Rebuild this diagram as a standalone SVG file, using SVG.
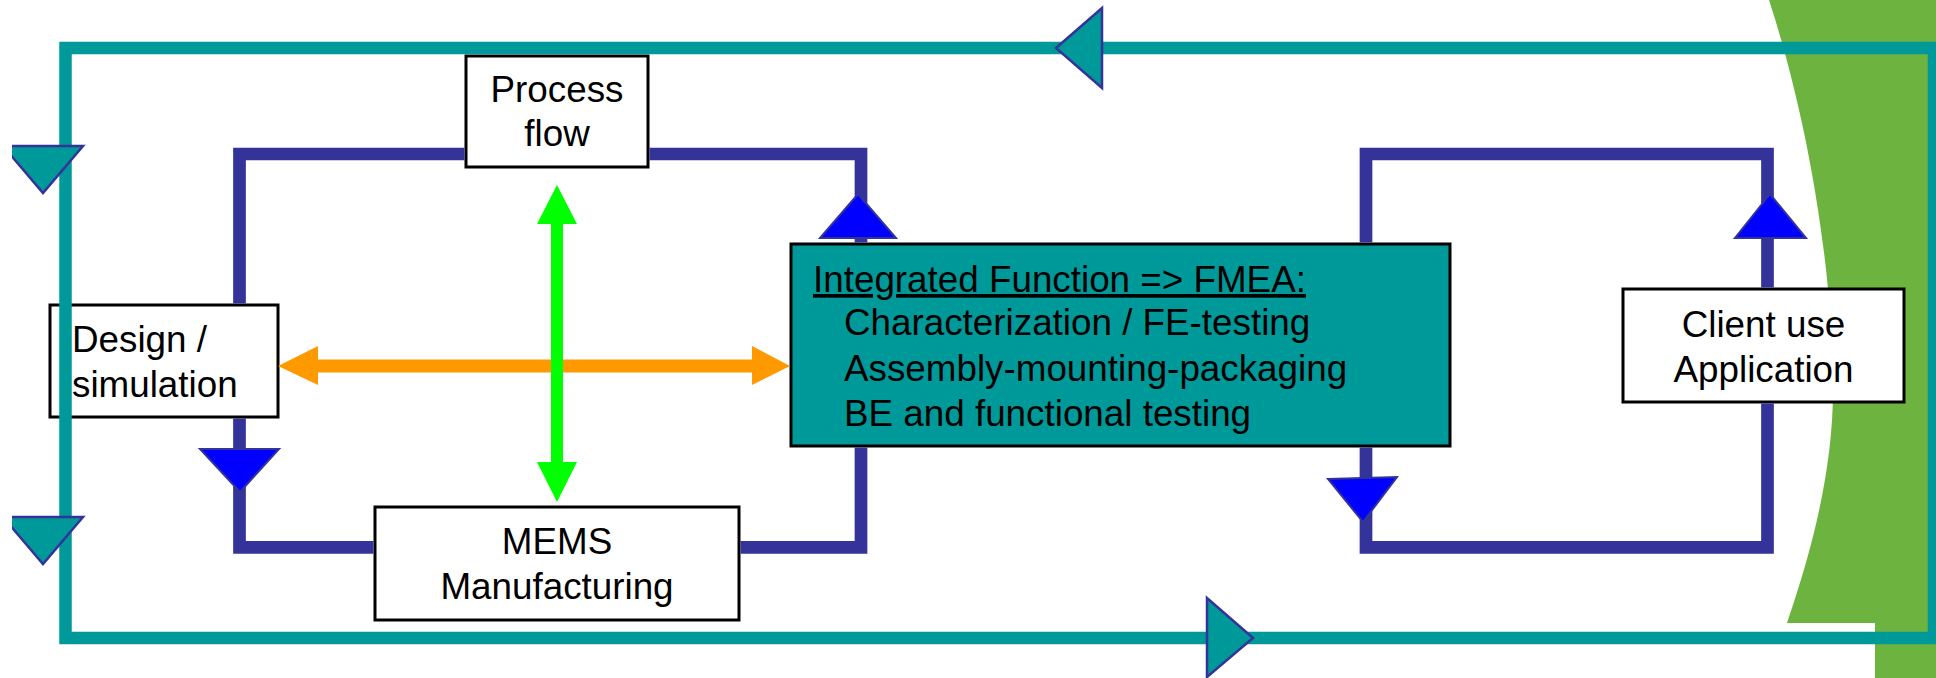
<svg xmlns="http://www.w3.org/2000/svg" width="1936" height="678" viewBox="0 0 1936 678">
<style>
.box{fill:#FFFFFF;stroke:#000000;stroke-width:3}
.tealbox{fill:#009999;stroke:#000000;stroke-width:3}
.t{font-family:"Liberation Sans",Arial,sans-serif;font-size:36.8px;fill:#000000}
.c{text-anchor:middle}
.navy{fill:none;stroke:#333399;stroke-width:12.7;stroke-linejoin:miter;stroke-linecap:butt}
.outer{fill:none;stroke:#009999;stroke-width:12.5;stroke-linejoin:miter}
.tri{fill:#009999;stroke:#333399;stroke-width:2.5;stroke-linejoin:miter}
.btri{fill:#0000FF;stroke:#333399;stroke-width:2;stroke-linejoin:miter}
.orange{fill:#FF9900}
.lime{fill:#00FF00}
</style>
<defs>
<clipPath id="clipLeft"><rect x="12" y="0" width="1924" height="678"/></clipPath>
</defs>
<rect x="0" y="0" width="1936" height="678" fill="#FFFFFF"/>
<path id="green-band" d="M1769,0 C1805,110 1833,260 1833,390 C1833,470 1812,550 1787,623 L1875,623 L1875,678 L1936,678 L1936,0 Z" fill="#6DB33F"/>

<g id="nodes">
<g id="process-flow">
<rect class="box" x="466" y="56" width="182" height="111"/>
<text class="t c" x="557" y="102">Process</text>
<text class="t c" x="557" y="146">flow</text>
</g>
<g id="design-simulation">
<rect class="box" x="50" y="305" width="228" height="112"/>
<text class="t" x="72" y="352">Design /</text>
<text class="t" x="72" y="397">simulation</text>
</g>
<g id="mems-manufacturing">
<rect class="box" x="375" y="507" width="364" height="113"/>
<text class="t c" x="557" y="554">MEMS</text>
<text class="t c" x="557" y="599">Manufacturing</text>
</g>
<g id="integrated-function">
<rect class="tealbox" x="791" y="244" width="659" height="202"/>
<text class="t" x="813" y="292" text-decoration="underline">Integrated Function =&gt; FMEA:</text>
<text class="t" x="844" y="335">Characterization / FE-testing</text>
<text class="t" x="844" y="381">Assembly-mounting-packaging</text>
<text class="t" x="844" y="426">BE and functional testing</text>
</g>
<g id="client-use">
<rect class="box" x="1623" y="289" width="281" height="113"/>
<text class="t c" x="1763.5" y="337">Client use</text>
<text class="t c" x="1763.5" y="382">Application</text>
</g>
</g>

<g id="connectors">
<!-- left navy loop -->
<path class="navy" d="M464.5,154 L239.5,154 L239.5,303.5"/>
<path class="navy" d="M239.5,418.5 L239.5,547.4 L373.5,547.4"/>
<path class="navy" d="M740.5,547.4 L861,547.4 L861,447.5"/>
<path class="navy" d="M861,242.5 L861,154 L649.5,154"/>
<!-- right navy loop -->
<path class="navy" d="M1366,242.5 L1366,154 L1767.5,154 L1767.5,287.5"/>
<path class="navy" d="M1767.5,403.5 L1767.5,547.4 L1366,547.4 L1366,447.5"/>
<!-- blue arrowheads -->
<polygon class="btri" points="820,238 896,238 858,194"/>
<polygon class="btri" points="200,449 279,449 240,492"/>
<polygon class="btri" points="1735,238 1806,238 1770,194"/>
<polygon class="btri" points="1328,479 1397,477 1363,522"/>
<!-- outer teal loop -->
<path class="outer" d="M65.5,48 L1934,48 L1934,638 L65.5,638 Z"/>
<g clip-path="url(#clipLeft)">
<polygon class="tri" points="3,146 83,146 43,193"/>
<polygon class="tri" points="3,517 83,517 43,564"/>
</g>
<polygon class="tri" points="1056,48 1102,8 1102,88"/>
<polygon class="tri" points="1253,638 1207,598 1207,677"/>
<!-- orange double arrow -->
<polygon class="orange" points="278,366 318,346 318,359.5 752,359.5 752,346 790,366 752,385 752,372.5 318,372.5 318,385"/>
<!-- green double arrow -->
<polygon class="lime" points="557,185 577,224 563,224 563,462 577,462 557,502 537,462 551,462 551,224 537,224"/>
</g>
</svg>
